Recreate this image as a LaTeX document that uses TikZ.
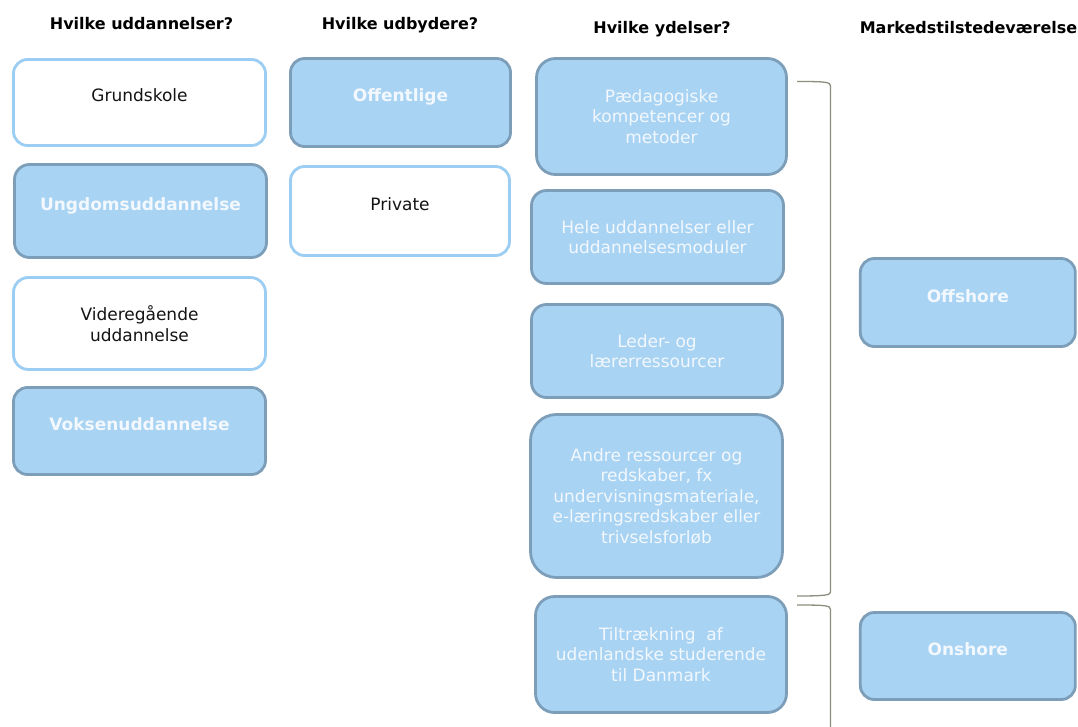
\documentclass[tikz,border=0pt]{standalone}
\usepackage{fontspec}
\setmainfont{DejaVu Sans}
\definecolor{fillblue}{HTML}{A9D3F3}
\definecolor{darkedge}{HTML}{7D9EB9}
\definecolor{lightedge}{HTML}{9CCDF2}
\definecolor{txtlight}{HTML}{F2F8FD}
\definecolor{txtdark}{HTML}{141414}
\definecolor{bracketcol}{HTML}{8E8E7E}
\tikzset{
  box/.style={rectangle, line width=2.8pt, align=center, inner sep=2pt,
    font=\fontsize{17}{20.5}\selectfont},
  filledbox/.style={box, draw=darkedge, fill=fillblue, text=txtlight},
  whitebox/.style={box, draw=lightedge, fill=white, text=txtdark},
  single/.style={text height=12pt, text depth=13pt},
  header/.style={font=\fontsize{16}{19}\selectfont\bfseries, text=black, anchor=base, inner sep=0pt},
  brack/.style={draw=bracketcol, line width=1.3pt},
}
\begin{document}
\begin{tikzpicture}[x=1pt,y=-1pt]
\clip (0,0) rectangle (1078,727);
\fill[white] (0,0) rectangle (1078,727);

% headers
\node[header] (h1) at (141.5,30) {Hvilke uddannelser?};
\node[header] (h2) at (400,30) {Hvilke udbydere?};
\node[header] (h3) at (662,34) {Hvilke ydelser?};
\node[header] (h4) at (968.5,34) {Markedstilstedeværelse};

% column 1
\node[whitebox, single, minimum width=252pt, minimum height=86pt, rounded corners=14pt] (grund) at (139.5,102.5) {Grundskole};
\node[filledbox, single, font=\fontsize{17}{20.5}\selectfont\bfseries, minimum width=252pt, minimum height=93pt, rounded corners=15pt] (ung) at (140.5,211) {Ungdomsuddannelse};
\node[whitebox, minimum width=252pt, minimum height=92pt, rounded corners=15pt] (vid) at (139.5,323.5) {Videregående\\uddannelse};
\node[filledbox, single, font=\fontsize{17}{20.5}\selectfont\bfseries, minimum width=252pt, minimum height=87pt, rounded corners=14pt] (voks) at (139.5,431) {Voksenuddannelse};

% column 2
\node[filledbox, single, font=\fontsize{17}{20.5}\selectfont\bfseries, minimum width=220pt, minimum height=88pt, rounded corners=14pt] (off) at (400.5,102.5) {Offentlige};
\node[whitebox, single, minimum width=219pt, minimum height=89pt, rounded corners=14pt] (priv) at (400,211) {Private};

% column 3
\node[filledbox, minimum width=250pt, minimum height=116pt, rounded corners=19pt] (paed) at (661.5,116.5) {Pædagogiske\\kompetencer og\\metoder};
\node[filledbox, minimum width=252pt, minimum height=93pt, rounded corners=15pt] (hele) at (657.5,237) {Hele uddannelser eller\\uddannelsesmoduler};
\node[filledbox, minimum width=251pt, minimum height=93pt, rounded corners=15pt] (leder) at (657,351) {Leder- og\\lærerressourcer};
\node[filledbox, minimum width=252pt, minimum height=163pt, rounded corners=26pt] (andre) at (656.5,496) {Andre ressourcer og\\redskaber, fx\\undervisningsmateriale,\\e-læringsredskaber eller\\trivselsforløb};
\node[filledbox, minimum width=251pt, minimum height=116pt, rounded corners=19pt] (tilt) at (661,654.5) {Tiltrækning\ \ af\\udenlandske studerende\\til Danmark};

% column 4
\node[filledbox, single, font=\fontsize{17}{20.5}\selectfont\bfseries, minimum width=215pt, minimum height=88pt, rounded corners=14pt] (offsh) at (967.8,302.5) {Offshore};
\node[filledbox, single, font=\fontsize{17}{20.5}\selectfont\bfseries, minimum width=215pt, minimum height=87pt, rounded corners=14pt] (onsh) at (967.8,656) {Onshore};

% brackets
\coordinate (b1a) at (797,81.5);
\coordinate (b1b) at (797,596);
\coordinate (b2a) at (797,605);
\coordinate (b2b) at (830.5,730);
\draw[brack] (b1a) .. controls (826,81.5) and (830.5,82) .. (830.5,86) -- (830.5,592)
  .. controls (830.5,595) and (826,596) .. (b1b);
\draw[brack] (b2a) .. controls (826,605) and (830.5,605.5) .. (830.5,609.5) -- (b2b);
\end{tikzpicture}
\end{document}
